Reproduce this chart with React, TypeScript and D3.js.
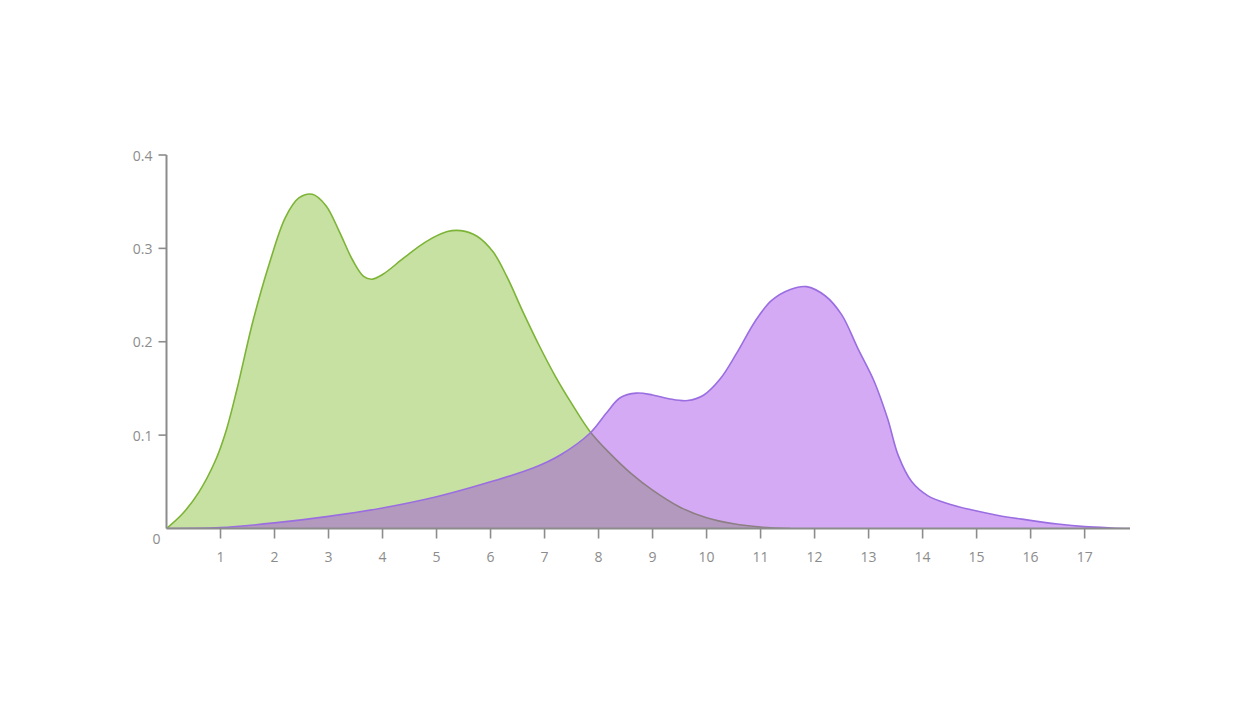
import React from "react";
import * as d3 from "d3";

// Green distribution (x, density)
const greenX = [0, 0.3, 0.6, 0.9, 1.1, 1.3, 1.6, 1.9, 2.2, 2.45, 2.7, 2.95, 3.2, 3.45, 3.65, 3.8, 4.0, 4.4, 4.8, 5.2, 5.45, 5.75, 6.05, 6.3, 6.6, 6.9, 7.2, 7.5, 7.84, 8.2, 8.6, 9.0, 9.5, 10.0, 10.5, 11.0, 11.55];
const greenY = [0, 0.016, 0.039, 0.072, 0.104, 0.148, 0.222, 0.283, 0.333, 0.354, 0.358, 0.346, 0.318, 0.287, 0.27, 0.267, 0.272, 0.29, 0.307, 0.318, 0.319, 0.313, 0.296, 0.27, 0.232, 0.196, 0.163, 0.134, 0.104, 0.081, 0.059, 0.041, 0.023, 0.0115, 0.005, 0.0015, 0];

// Purple distribution (x, density)
const purpleX = [0, 1, 2, 3, 4, 5, 6, 6.8, 7.3, 7.84, 8.15, 8.4, 8.7, 9.0, 9.3, 9.65, 9.95, 10.25, 10.56, 10.9, 11.2, 11.55, 11.85, 12.2, 12.5, 12.8, 13.1, 13.35, 13.55, 13.8, 14.1, 14.5, 14.9, 15.4, 15.9, 16.5, 17.0, 17.5, 17.84];
const purpleY = [0, 0.001, 0.006, 0.013, 0.022, 0.034, 0.05, 0.065, 0.079, 0.102, 0.124, 0.14, 0.145, 0.143, 0.139, 0.137, 0.143, 0.16, 0.188, 0.222, 0.244, 0.256, 0.259, 0.249, 0.229, 0.193, 0.158, 0.118, 0.078, 0.05, 0.035, 0.026, 0.02, 0.014, 0.0095, 0.0048, 0.002, 0.0006, 0];

const xTicks = [1, 2, 3, 4, 5, 6, 7, 8, 9, 10, 11, 12, 13, 14, 15, 16, 17];
const yTicks = [0.1, 0.2, 0.3, 0.4];
const xDomain = [0, 17.84];
const yDomain = [0, 0.4];

type Pt = [number, number];

export default function App() {
  const W = 1257;
  const H = 704;
  const x = d3.scaleLinear().domain(xDomain).range([166.5, 1130]);
  const y = d3.scaleLinear().domain(yDomain).range([528.5, 155]);

  const green: Pt[] = greenX.map((v, i) => [v, greenY[i]]);
  const purple: Pt[] = purpleX.map((v, i) => [v, purpleY[i]]);

  const curve = d3.curveCatmullRom.alpha(0.5);
  const area = d3
    .area<Pt>()
    .x((d) => x(d[0]))
    .y0(y(0))
    .y1((d) => y(d[1]))
    .curve(curve);
  const line = d3
    .line<Pt>()
    .x((d) => x(d[0]))
    .y((d) => y(d[1]))
    .curve(curve);

  const axisColor = "#8c8c8c";
  const textColor = "#8c8c8c";
  const font = "'Open Sans', 'Noto Sans', sans-serif";

  return (
    <svg
      width={W}
      height={H}
      style={{ position: "absolute", left: 0, top: 0, background: "#fff" }}
    >
      <defs>
        <clipPath id="plotClip">
          <rect x={x(0)} y={0} width={x(xDomain[1]) - x(0)} height={y(0)} />
        </clipPath>
      </defs>
      <g clipPath="url(#plotClip)">
        <path d={area(green) || ""} fill="#c6e1a1" stroke="none" />
        <path d={line(green) || ""} fill="none" stroke="#7db437" strokeWidth={1.6} />
        <path d={area(purple) || ""} fill="rgb(157,57,232)" fillOpacity={0.43} stroke="none" />
        <path d={line(purple) || ""} fill="none" stroke="#9a6ee0" strokeWidth={1.6} />
      </g>

      {/* Y axis */}
      <line x1={x(0)} x2={x(0)} y1={y(0.4)} y2={y(0)} stroke={axisColor} strokeWidth={2} />
      {yTicks.map((t) => (
        <g key={"y" + t}>
          <line x1={x(0) - 8} x2={x(0)} y1={y(t)} y2={y(t)} stroke={axisColor} strokeWidth={1.6} />
          <text
            x={x(0) - 14}
            y={y(t)}
            textAnchor="end"
            dominantBaseline="central"
            fill={textColor}
            fontSize={14}
            fontFamily={font}
          >
            {t.toFixed(1)}
          </text>
        </g>
      ))}

      {/* X axis */}
      <line x1={x(0)} x2={x(xDomain[1])} y1={y(0)} y2={y(0)} stroke={axisColor} strokeWidth={2} />
      {xTicks.map((t) => (
        <g key={"x" + t}>
          <line x1={x(t)} x2={x(t)} y1={y(0)} y2={y(0) + 10} stroke={axisColor} strokeWidth={1.6} />
          <text
            x={x(t)}
            y={y(0) + 28}
            textAnchor="middle"
            dominantBaseline="central"
            fill={textColor}
            fontSize={14}
            fontFamily={font}
          >
            {t}
          </text>
        </g>
      ))}
      <text
        x={x(0) - 10}
        y={y(0) + 10}
        textAnchor="middle"
        dominantBaseline="central"
        fill={textColor}
        fontSize={14}
        fontFamily={font}
      >
        0
      </text>
    </svg>
  );
}
